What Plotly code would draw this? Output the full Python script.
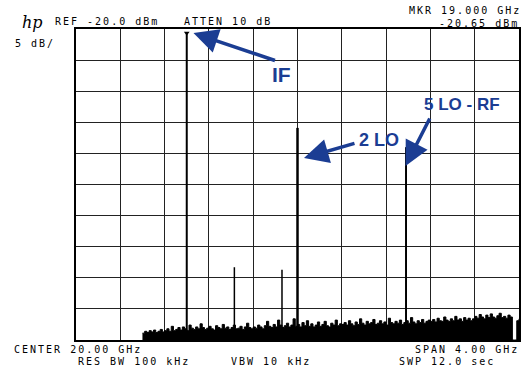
import plotly.graph_objects as go

# ---------------- data ----------------
ref_level = -20.0          # dBm, top of screen
bottom_level = -70.0       # dBm, bottom of screen (5 dB/div x 10)
f_start, f_stop = 18.0, 22.0   # GHz (center 20, span 4)

# discrete responses (GHz, dBm)
sig_freq = [19.00, 19.43, 19.86, 20.00, 20.98]
sig_amp = [-20.65, -58.3, -58.7, -35.9, -39.0]
sig_width = [2.0, 1.5, 1.5, 2.5, 2.0]

# noise floor sweep
sweep_start = 18.60
sweep_step = 0.02
noise_amp = [
    -68.9, -68.6, -68.8, -68.5, -68.7, -68.4, -68.8, -68.6, -68.3, -68.7,
    -68.5, -68.2, -68.6, -67.8, -68.5,
    -68.3, -68.0, -68.4, -67.9, -68.2, -68.5, -67.6, -68.1, -68.3, -67.9,
    -68.2, -67.4, -68.0, -68.3, -68.1, -67.8, -68.2, -68.4, -67.7, -68.0,
    -68.2, -67.5, -68.1, -67.9, -68.3, -68.0, -67.6, -68.2, -68.1, -67.8,
    -68.3, -67.9, -67.3, -68.0, -68.2,
    -67.9, -68.1, -67.6, -67.9, -68.2, -67.7, -67.0, -67.8, -68.0, -67.5,
    -67.9, -66.8, -67.6, -68.0, -67.7, -67.3, -67.9, -67.6, -66.6, -67.8,
    -67.5, -67.9, -67.2, -67.7, -66.9, -67.8, -67.4, -67.9, -67.6, -67.1,
    -67.8, -67.5, -67.0, -67.7, -67.9, -67.3, -67.6, -66.8, -67.7, -67.4,
    -67.5, -67.2, -67.6, -66.9, -67.4, -67.7, -67.1, -67.5, -66.6, -67.3,
    -67.6, -67.0, -67.4, -67.2, -66.7, -67.5, -67.3, -66.9, -67.4, -67.1,
    -67.6, -66.5, -67.2, -67.4, -67.0, -67.3, -66.8, -67.5, -67.2, -66.9,
    -67.3, -66.4, -67.1, -67.4, -66.9, -67.2, -66.7, -67.3, -67.0, -66.8,
    -67.0, -66.7, -67.1, -66.5, -66.9, -67.0, -66.3, -66.8, -67.0, -66.6,
    -66.9, -66.2, -66.8, -66.6, -67.0, -66.4, -66.8, -66.5, -66.9, -66.6,
    -66.2, -66.5, -65.9, -66.3, -66.6, -66.0, -66.4, -65.8, -66.3, -66.5,
    -66.1, -65.7, -66.4, -66.2, -66.5, -66.0, -66.3,
    -70.0, -70.0, -66.9, -66.6,
]
noise_freq = [round(sweep_start + i * sweep_step, 3) for i in range(len(noise_amp))]

# screen annotations (text, edge x, centre y, which edge)
hdr_text = [("REF -20.0 dBm", 55, 21, "l"), ("ATTEN 10 dB", 185, 21, "l"),
            ("5 dB/", 15, 43, "l"),
            ("MKR 19.000 GHz", 523, 11, "r"), ("-20.65 dBm", 521, 24, "r"),
            ("CENTER 20.00 GHz", 14, 349, "l"), ("RES BW 100 kHz", 78, 361, "l"),
            ("VBW 10 kHz", 232, 361, "l"), ("SPAN 4.00 GHz", 521, 349, "r"),
            ("SWP 12.0 sec", 401, 361, "l")]

# ---------------- figure ----------------
W, H = 528, 370
L, R, T, B = 76, 7, 29, 30
PW, PH = W - L - R, H - T - B
PITCH = 8.0   # px per character (10px mono + 2px letter spacing)


def px(x):
    return (x - L) / PW


def py(y):
    return (H - B - y) / PH


fig = go.Figure()

# noise floor (filled down to screen bottom)
fig.add_trace(go.Scatter(x=[noise_freq[0], noise_freq[-1]], y=[bottom_level, bottom_level],
                         mode="lines", line=dict(width=0, color="black"),
                         hoverinfo="skip", showlegend=False))
fig.add_trace(go.Scatter(x=noise_freq, y=noise_amp, mode="lines",
                         line=dict(color="black", width=1, shape="hv"),
                         fill="tonexty", fillcolor="black", showlegend=False))

# discrete signal lines
for f, a, w in zip(sig_freq, sig_amp, sig_width):
    fig.add_trace(go.Scatter(x=[f, f], y=[bottom_level, a], mode="lines",
                             line=dict(color="black", width=w), showlegend=False))

# marker on IF
fig.add_trace(go.Scatter(x=[sig_freq[0]], y=[sig_amp[0]], mode="markers",
                         marker=dict(symbol="triangle-down", size=5, color="black"),
                         showlegend=False))

mono = dict(family="DejaVu Sans Mono", size=10, color="black")
ann = []
for t, x, y, side in hdr_text:
    half = len(t) * PITCH / 2
    cx = x + half if side == "l" else x - half
    ann.append(dict(text=t, x=px(cx), y=py(y), xref="paper", yref="paper",
                    xanchor="center", yanchor="middle", showarrow=False, font=mono))
ann.append(dict(text="<i>hp</i>", x=px(20), y=py(23), xref="paper", yref="paper",
                xanchor="left", yanchor="middle", showarrow=False,
                font=dict(family="DejaVu Serif", size=16, color="black")))

blue = "#1b3d93"
# arrows (tip, tail in pixels)
arrows = [((194, 33), (277, 61)), ((305, 158), (357, 143)), ((407, 166), (432, 117))]
for (tx, ty), (sx, sy) in arrows:
    ann.append(dict(text="", x=px(tx), y=py(ty), xref="paper", yref="paper",
                    ax=sx - tx, ay=sy - ty, showarrow=True, arrowhead=2,
                    arrowsize=1.4, arrowwidth=3.5, arrowcolor=blue))
labels = [("IF", 282, 74, 21), ("2 LO", 380, 140, 18), ("5 LO - RF", 464, 104, 17)]
for t, x, y, s in labels:
    ann.append(dict(text="<b>" + t + "</b>", x=px(x), y=py(y), xref="paper", yref="paper",
                    xanchor="center", yanchor="middle", showarrow=False,
                    font=dict(family="Liberation Sans", size=s, color=blue)))

fig.update_layout(
    width=W, height=H, margin=dict(l=L, r=R, t=T, b=B),
    paper_bgcolor="white", plot_bgcolor="white",
    annotations=ann, showlegend=False,
    xaxis=dict(range=[f_start, f_stop], dtick=0.4, tick0=f_start, showgrid=True,
               gridcolor="#222", gridwidth=1, showticklabels=False, ticks="",
               zeroline=False, showline=True, linecolor="black", linewidth=1.5,
               mirror=True, fixedrange=True),
    yaxis=dict(range=[bottom_level, ref_level], dtick=5, tick0=bottom_level, showgrid=True,
               gridcolor="#222", gridwidth=1, showticklabels=False, ticks="",
               zeroline=False, showline=True, linecolor="black", linewidth=1.5,
               mirror=True, fixedrange=True),
)

post = (
    "document.body.style.margin='0';document.body.style.overflow='hidden';"
    "var s=document.createElement('style');"
    "s.textContent='text.annotation-text[style*=\"Sans Mono\"]{letter-spacing:2px;}';"
    "document.head.appendChild(s);"
)
fig.write_html("out.html", config={"displayModeBar": False}, post_script=post)
